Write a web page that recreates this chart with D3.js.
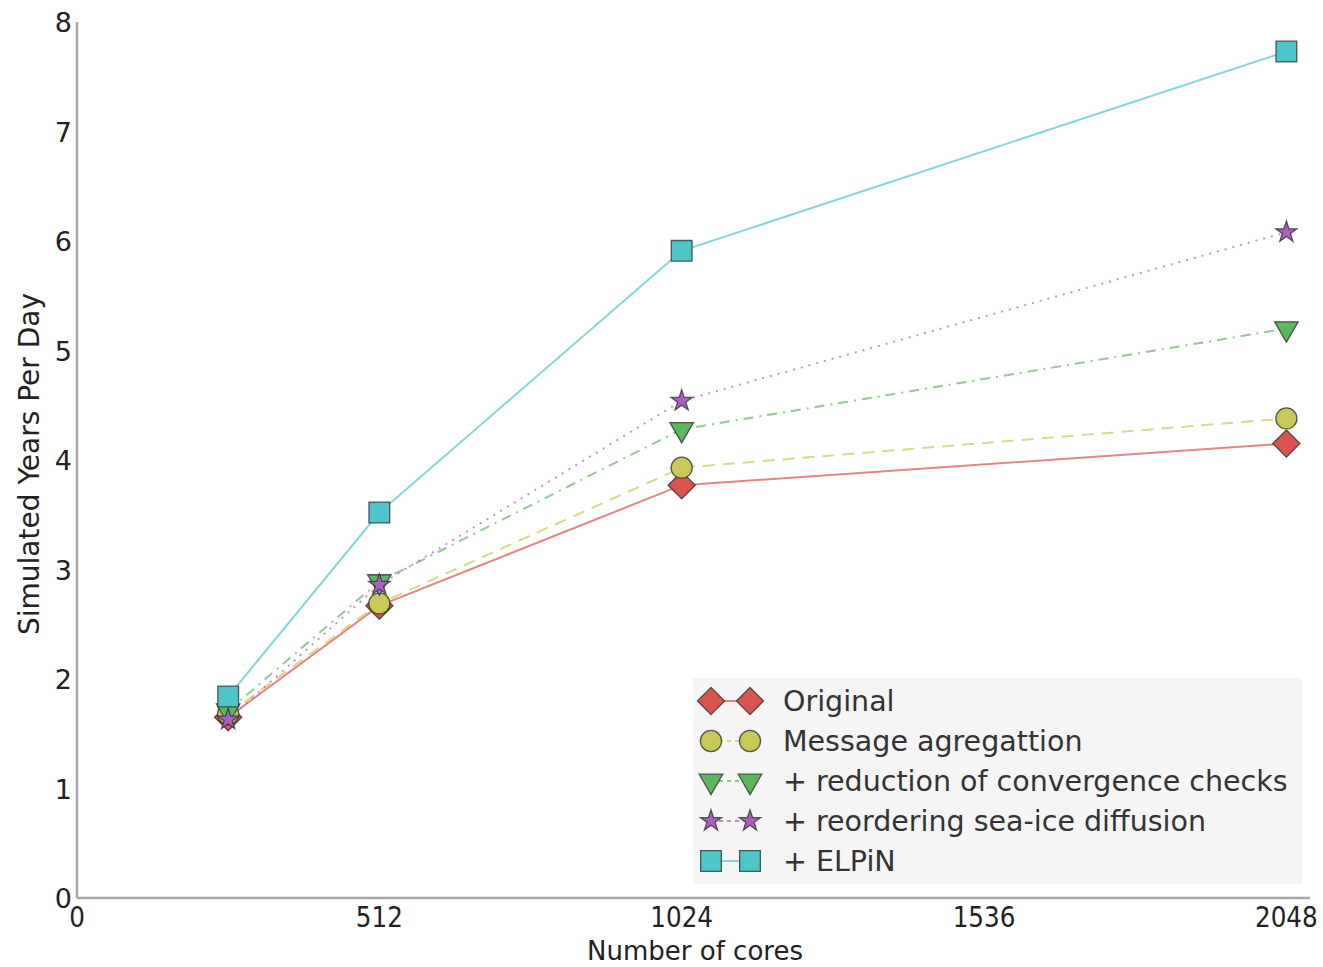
<!DOCTYPE html>
<html>
<head>
<meta charset="utf-8">
<script src="https://cdn.jsdelivr.net/npm/d3@7"></script>
<style>
  body { margin: 0; background: #fff; }
  svg { display: block; font-family: "DejaVu Sans", sans-serif; }
</style>
</head>
<body>
<svg id="chart" width="1323" height="967"></svg>
<script>
const cores = [256, 512, 1024, 2048];
const xTicks = [0, 512, 1024, 1536, 2048];
const yTicks = [0, 1, 2, 3, 4, 5, 6, 7, 8];

const original = [1.65, 2.67, 3.77, 4.15];
const messageAgg = [1.68, 2.69, 3.93, 4.38];
const reduction = [1.71, 2.89, 4.28, 5.2];
const reordering = [1.63, 2.86, 4.54, 6.08];
const elpin = [1.84, 3.52, 5.91, 7.73];

const seriesNames = [
  "Original",
  "Message agregattion",
  "+ reduction of convergence checks",
  "+ reordering sea-ice diffusion",
  "+ ELPiN"
];

const styles = [
  { color: "#d9534f", dash: null, marker: "diamond" },
  { color: "#c9c95a", dash: "12,8", marker: "circle" },
  { color: "#5cb85c", dash: "10,6,2,6", marker: "triangle" },
  { color: "#b05cc6", dash: "2,6", marker: "star" },
  { color: "#4ec5c9", dash: null, marker: "square" }
];

const series = [original, messageAgg, reduction, reordering, elpin].map((values, i) => ({
  name: seriesNames[i],
  ...styles[i],
  points: values.map((v, j) => ({ x: cores[j], y: v }))
}));

const svg = d3.select("#chart");

// axis reaches a little past 2048, as in the original figure
const x = d3.scaleLinear().domain([0, 2088]).range([77, 1310]);
const y = d3.scaleLinear().domain([0, 8]).range([898, 22]);

// spines
svg.append("line")
  .attr("x1", x(0)).attr("x2", x(0))
  .attr("y1", y(8)).attr("y2", y(0))
  .attr("stroke", "#a8a8a8").attr("stroke-width", 2.5);
svg.append("line")
  .attr("x1", x(0)).attr("x2", x(2088))
  .attr("y1", y(0)).attr("y2", y(0))
  .attr("stroke", "#a8a8a8").attr("stroke-width", 2.5);

// y tick labels
svg.append("g").selectAll("text")
  .data(yTicks)
  .join("text")
  .attr("x", 72)
  .attr("y", (d) => y(d) + 10)
  .attr("text-anchor", "end")
  .attr("font-size", 27)
  .attr("fill", "#222")
  .text((d) => d);

// x tick labels (narrow look)
svg.append("g").selectAll("text")
  .data(xTicks)
  .join("text")
  .attr("transform", (d) => `translate(${x(d)},927) scale(0.88,1)`)
  .attr("text-anchor", "middle")
  .attr("font-size", 28)
  .attr("fill", "#222")
  .text((d) => d);

// axis titles
svg.append("text")
  .attr("transform", `translate(695,960)`)
  .attr("text-anchor", "middle")
  .attr("font-size", 26)
  .attr("fill", "#222")
  .text("Number of cores");

svg.append("text")
  .attr("transform", `translate(39,464) rotate(-90)`)
  .attr("text-anchor", "middle")
  .attr("font-size", 28)
  .attr("fill", "#222")
  .text("Simulated Years Per Day");

const symbolFor = {
  diamond: d3.symbol().type(d3.symbolSquare).size(370),
  circle: d3.symbol().type(d3.symbolCircle).size(350),
  triangle: d3.symbol().type(d3.symbolTriangle).size(240),
  star: d3.symbol().type(d3.symbolStar).size(140),
  square: d3.symbol().type(d3.symbolSquare).size(430)
};
const rotateFor = { diamond: 45, circle: 0, triangle: 180, star: 0, square: 0 };

const line = d3.line().x((d) => x(d.x)).y((d) => y(d.y));

function drawMarker(g, s, px, py) {
  g.append("path")
    .attr("d", symbolFor[s.marker]())
    .attr("transform", `translate(${px},${py}) rotate(${rotateFor[s.marker]})`)
    .attr("fill", s.color)
    .attr("stroke", "#333")
    .attr("stroke-opacity", 0.8)
    .attr("stroke-width", 1.3);
}

series.forEach((s) => {
  const g = svg.append("g");
  g.append("path")
    .datum(s.points)
    .attr("d", line)
    .attr("fill", "none")
    .attr("stroke", s.color)
    .attr("stroke-opacity", 0.7)
    .attr("stroke-width", 2)
    .attr("stroke-dasharray", s.dash);
  s.points.forEach((p) => drawMarker(g, s, x(p.x), y(p.y)));
});

// legend
const legend = svg.append("g").attr("transform", "translate(693,678)");
legend.append("rect")
  .attr("width", 609).attr("height", 206)
  .attr("fill", "#f5f5f5");

series.forEach((s, i) => {
  const ly = 23 + i * 40;
  const row = legend.append("g");
  row.append("line")
    .attr("x1", 18).attr("x2", 57)
    .attr("y1", ly).attr("y2", ly)
    .attr("stroke", s.color)
    .attr("stroke-opacity", 0.7)
    .attr("stroke-width", 2)
    .attr("stroke-dasharray", s.dash ? "4,4" : null);
  drawMarker(row, s, 18, ly);
  drawMarker(row, s, 57, ly);
  row.append("text")
    .attr("x", 90)
    .attr("y", ly + 10)
    .attr("font-size", 28.5)
    .attr("fill", "#333")
    .text(s.name);
});
</script>
</body>
</html>
